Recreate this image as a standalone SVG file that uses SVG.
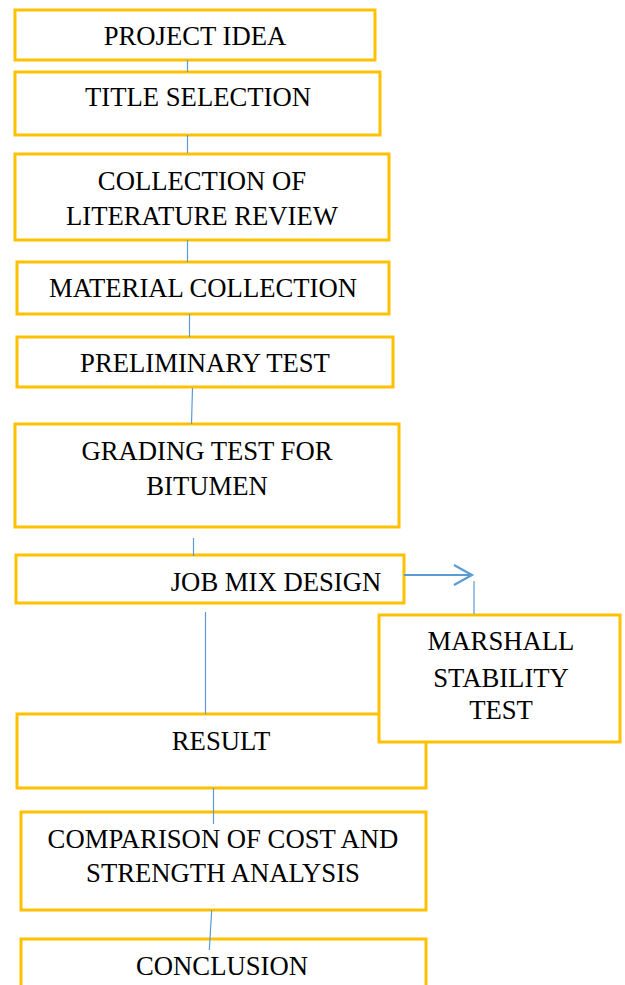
<svg xmlns="http://www.w3.org/2000/svg" width="625" height="985" viewBox="0 0 625 985">
<style>
.box{fill:#fff;stroke:#FFC000;stroke-width:3}
.t{font-family:"Liberation Serif","Times New Roman",serif;font-size:26.7px;fill:#000;text-anchor:middle}
.c{stroke:#5B9BD5;stroke-width:1.2;fill:none}
.a{stroke:#5B9BD5;stroke-width:2.2;fill:none}
</style>
<rect width="625" height="985" fill="#fff"/>
<g id="n1"><rect class="box" x="15" y="10" width="360" height="50"/><text class="t" x="195" y="45">PROJECT IDEA</text></g>
<g id="n2"><rect class="box" x="15" y="72" width="365" height="63"/><text class="t" x="198" y="106">TITLE SELECTION</text></g>
<g id="n3"><rect class="box" x="15" y="154" width="374" height="86"/><text class="t" x="202" y="190">COLLECTION OF</text><text class="t" x="202" y="225">LITERATURE REVIEW</text></g>
<g id="n4"><rect class="box" x="17" y="262" width="372" height="52"/><text class="t" x="203" y="297">MATERIAL COLLECTION</text></g>
<g id="n5"><rect class="box" x="17" y="337" width="376" height="50"/><text class="t" x="205" y="372">PRELIMINARY TEST</text></g>
<g id="n6"><rect class="box" x="15" y="424" width="384" height="103"/><text class="t" x="207" y="460">GRADING TEST FOR</text><text class="t" x="207" y="495">BITUMEN</text></g>
<g id="n7"><rect class="box" x="16" y="555" width="388" height="48"/><text class="t" x="276" y="591">JOB MIX DESIGN</text></g>
<g id="n9"><rect class="box" x="17" y="714" width="409" height="74"/><text class="t" x="221" y="750">RESULT</text></g>
<g id="n8"><rect class="box" x="379" y="615" width="241" height="127"/><text class="t" x="501" y="650">MARSHALL</text><text class="t" x="501" y="687">STABILITY</text><text class="t" x="501" y="719">TEST</text></g>
<g id="n10"><rect class="box" x="21" y="812" width="405" height="98"/><text class="t" x="223" y="848">COMPARISON OF COST AND</text><text class="t" x="223" y="882">STRENGTH ANALYSIS</text></g>
<g id="n11"><rect class="box" x="21" y="939" width="405" height="60"/><text class="t" x="222" y="975">CONCLUSION</text></g>
<g id="connectors">
<line class="c" x1="187.5" y1="60" x2="187.5" y2="72"/>
<line class="c" x1="187.5" y1="135" x2="187.5" y2="153"/>
<line class="c" x1="187.5" y1="240" x2="187.5" y2="262"/>
<line class="c" x1="189.5" y1="314" x2="189.5" y2="337"/>
<line class="c" x1="192.5" y1="388" x2="191.5" y2="424"/>
<line class="c" x1="193.5" y1="538" x2="193.5" y2="556"/>
<line class="c" x1="205.5" y1="612" x2="205.5" y2="714"/>
<line class="a" x1="404" y1="575" x2="472" y2="575"/>
<polyline class="a" points="454,565 472,575 454,585"/>
<line class="c" x1="474" y1="581" x2="474" y2="614"/>
<line class="c" x1="213.5" y1="788" x2="213.5" y2="824"/>
<line class="c" x1="211.7" y1="910" x2="209.3" y2="950"/>
</g>
</svg>
